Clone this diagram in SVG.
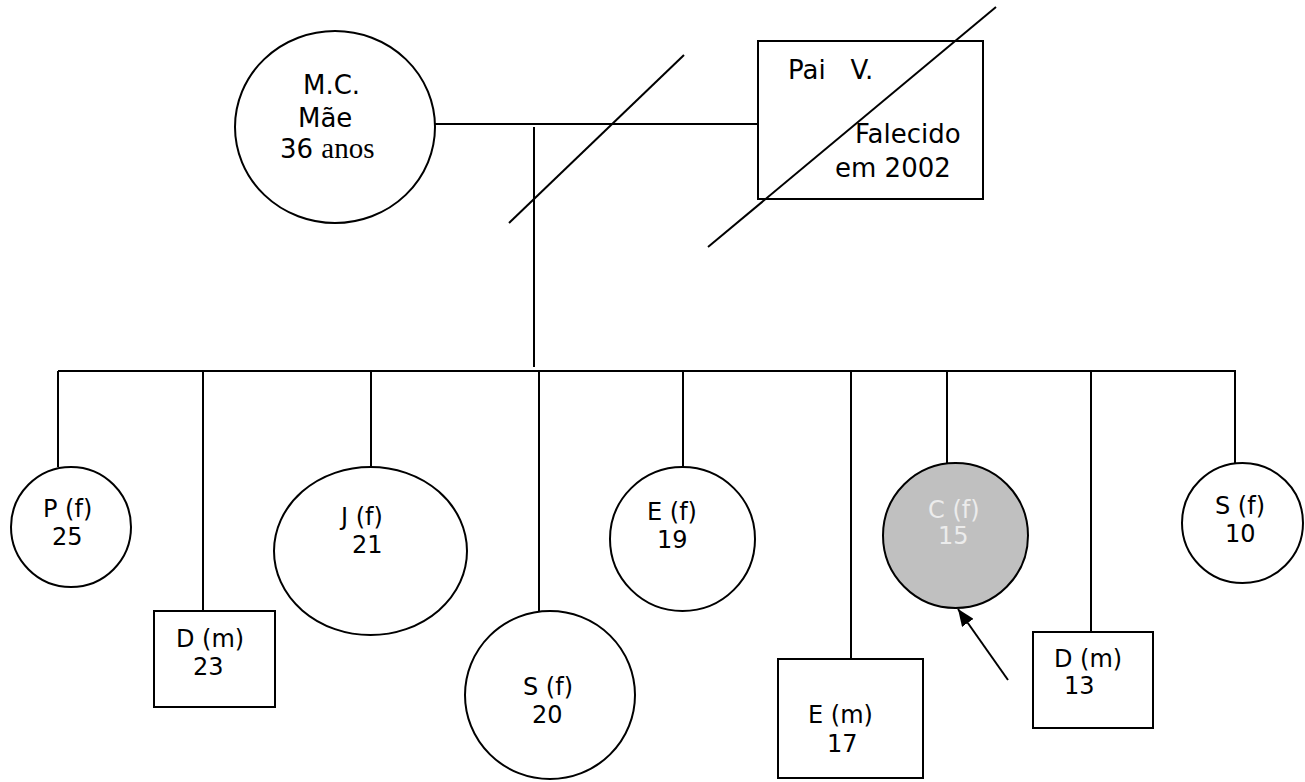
<svg xmlns="http://www.w3.org/2000/svg" width="1305" height="782" viewBox="0 0 1305 782">
<style>
.s{fill:#fff;stroke:#000;stroke-width:2}
.ln{stroke:#000;stroke-width:2;fill:none}
.t{font-family:"DejaVu Sans",Verdana,sans-serif;font-size:24px;fill:#000}
.tp{font-family:"DejaVu Sans",Verdana,sans-serif;font-size:26px;fill:#000}
.w{fill:#ececec}
</style>
<defs>
<marker id="ah" markerWidth="17" markerHeight="14" refX="17" refY="7" orient="auto" markerUnits="userSpaceOnUse" viewBox="0 0 17 14">
<path d="M0,0 L17,7 L0,14 Z" fill="#000"/>
</marker>
</defs>
<rect width="1305" height="782" fill="#fff"/>
<g id="connectors">
<line class="ln" x1="435" y1="124" x2="758" y2="124"/>
<line class="ln" x1="534" y1="127" x2="534" y2="367"/>
<line class="ln" x1="509" y1="223" x2="684" y2="55"/>
<line class="ln" x1="58" y1="371" x2="1236" y2="371"/>
<line class="ln" x1="58" y1="371" x2="58" y2="467"/>
<line class="ln" x1="203" y1="371" x2="203" y2="611"/>
<line class="ln" x1="371" y1="371" x2="371" y2="467"/>
<line class="ln" x1="539" y1="371" x2="539" y2="611"/>
<line class="ln" x1="683" y1="371" x2="683" y2="467"/>
<line class="ln" x1="851" y1="371" x2="851" y2="659"/>
<line class="ln" x1="947" y1="371" x2="947" y2="466"/>
<line class="ln" x1="1091" y1="371" x2="1091" y2="633"/>
<line class="ln" x1="1235" y1="371" x2="1235" y2="464"/>
<line class="ln" x1="1008" y1="680" x2="958" y2="609" marker-end="url(#ah)"/>
</g>
<g id="mae">
<ellipse class="s" cx="335" cy="127" rx="100" ry="96"/>
<text class="tp" x="303" y="94">M.C.</text>
<text class="tp" x="298" y="127">Mãe</text>
<text class="tp" x="280" y="158">36 <tspan font-family="'Liberation Serif',serif" font-size="29">anos</tspan></text>
</g>
<g id="pai">
<rect class="s" x="758" y="41" width="225" height="158"/>
<text class="tp" x="788" y="79" xml:space="preserve">Pai   V.</text>
<text class="tp" x="855" y="143">Falecido</text>
<text class="tp" x="835" y="177">em 2002</text>
<line class="ln" x1="708" y1="247" x2="996" y2="7"/>
</g>
<g id="p25">
<ellipse class="s" cx="71" cy="527" rx="60" ry="60"/>
<text class="t" x="43" y="517">P (f)</text>
<text class="t" x="52" y="545">25</text>
</g>
<g id="d23">
<rect class="s" x="154" y="611" width="121" height="96"/>
<text class="t" x="176" y="647">D (m)</text>
<text class="t" x="193" y="675">23</text>
</g>
<g id="j21">
<ellipse class="s" cx="370.5" cy="551" rx="96.5" ry="84"/>
<text class="t" x="341" y="525">J (f)</text>
<text class="t" x="352" y="553">21</text>
</g>
<g id="s20">
<ellipse class="s" cx="550" cy="695" rx="85" ry="84"/>
<text class="t" x="523" y="695">S (f)</text>
<text class="t" x="532" y="723">20</text>
</g>
<g id="e19">
<ellipse class="s" cx="682.5" cy="539" rx="72.5" ry="72"/>
<text class="t" x="647" y="520">E (f)</text>
<text class="t" x="657" y="548">19</text>
</g>
<g id="e17">
<rect class="s" x="778" y="659" width="145" height="119"/>
<text class="t" x="808" y="723">E (m)</text>
<text class="t" x="827" y="752">17</text>
</g>
<g id="c15">
<ellipse cx="955.5" cy="535.5" rx="72.5" ry="72.5" fill="#c0c0c0" stroke="#000" stroke-width="2"/>
<text class="t w" x="928" y="518">C (f)</text>
<text class="t w" x="938" y="544">15</text>
</g>
<g id="d13">
<rect class="s" x="1033" y="632" width="120" height="96"/>
<text class="t" x="1054" y="667">D (m)</text>
<text class="t" x="1064" y="694">13</text>
</g>
<g id="s10">
<ellipse class="s" cx="1242.5" cy="523" rx="60.5" ry="60"/>
<text class="t" x="1215" y="514">S (f)</text>
<text class="t" x="1225" y="542">10</text>
</g>
</svg>
